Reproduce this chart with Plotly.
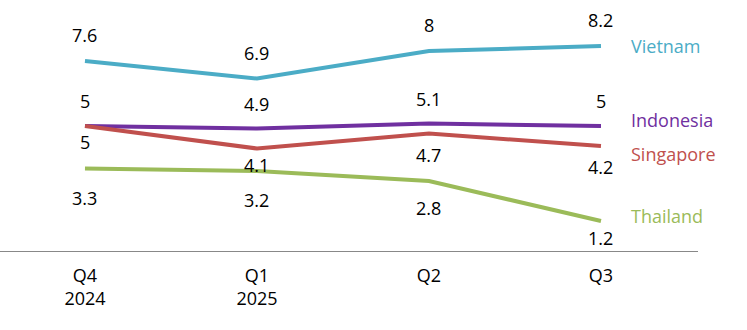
import plotly.graph_objects as go

categories = ["Q4<br>2024", "Q1<br>2025", "Q2", "Q3"]
series_names = ["Vietnam", "Indonesia", "Singapore", "Thailand"]
vietnam = [7.6, 6.9, 8, 8.2]
indonesia = [5, 4.9, 5.1, 5]
singapore = [5, 4.1, 4.7, 4.2]
thailand = [3.3, 3.2, 2.8, 1.2]

colors = {"Vietnam": "#4BACC6", "Indonesia": "#7030A0", "Singapore": "#C0504D", "Thailand": "#9BBB59"}
label_shift = {
    "Vietnam": [26, 26, 26, 26],
    "Indonesia": [25, 25, 25, 25],
    "Singapore": [-16, -16, -21, -21],
    "Thailand": [-29, -29, -27, -17],
}
name_shift_y = {"Vietnam": 0, "Indonesia": 6, "Singapore": -8, "Thailand": 5}

data = {"Vietnam": vietnam, "Indonesia": indonesia, "Singapore": singapore, "Thailand": thailand}
xs = list(range(len(categories)))
FONT = "Open Sans"

fig = go.Figure()
annotations = []
for name in series_names:
    vals = data[name]
    fig.add_trace(go.Scatter(x=xs, y=vals, mode="lines", name=name,
                             line=dict(color=colors[name], width=4), hoverinfo="skip"))
    for i, v in enumerate(vals):
        annotations.append(dict(x=xs[i], y=v, text=f"{v:g}", showarrow=False,
                                yshift=label_shift[name][i], xref="x", yref="y",
                                font=dict(family=FONT, size=18, color="#000000")))
    annotations.append(dict(x=xs[-1], y=vals[-1], text=name, showarrow=False,
                            xanchor="left", xshift=28, yshift=name_shift_y[name],
                            xref="x", yref="y",
                            font=dict(family=FONT, size=18, color=colors[name])))

fig.update_layout(
    width=747, height=330,
    margin=dict(l=0, r=49, t=1, b=79),
    paper_bgcolor="white", plot_bgcolor="white",
    showlegend=False,
    annotations=annotations,
    xaxis=dict(range=[-0.494, 3.564], tickvals=xs, ticktext=categories,
               showgrid=False, zeroline=False, showline=True, linecolor="#888888",
               linewidth=1, ticks="", ticklabelstandoff=8,
               tickfont=dict(family=FONT, size=18, color="#000000"),
               fixedrange=True),
    yaxis=dict(range=[0, 10], visible=False, showgrid=False, zeroline=False, fixedrange=True),
)

fig.write_html("out.html")
